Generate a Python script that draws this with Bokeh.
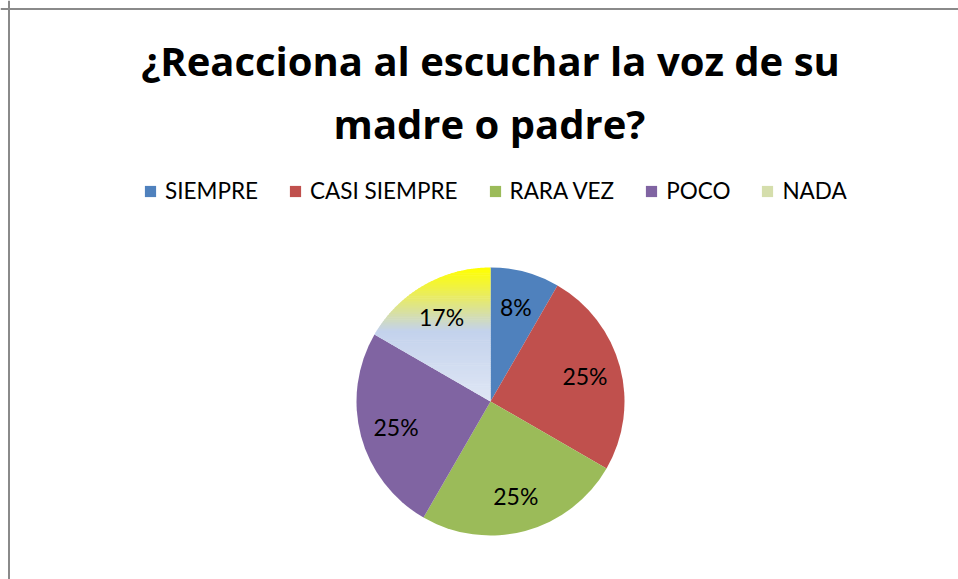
import numpy as np
from bokeh.plotting import figure
from bokeh.models import Range1d, Label, Legend, LegendItem, ColumnDataSource, Span
from bokeh.embed import file_html
from bokeh.resources import INLINE
from bokeh.core.properties import value

# ---------------- data ----------------
title_lines = ["¿Reacciona al escuchar la voz de su", "madre o padre?"]
categories = ["SIEMPRE", "CASI SIEMPRE", "RARA VEZ", "POCO", "NADA"]
counts = [1, 3, 3, 3, 2]

# ---------------- styles ----------------
solid_colors = ["#4F81BD", "#C0504D", "#9BBB59", "#8064A2"]
nada_stops = [(0.0, "#FFFF00"), (0.22, "#E8EB66"), (0.47, "#C3D2EC"), (1.0, "#E0E7F5")]
FONT = "Lato"
TITLE_FONT = "Open Sans"
W, H = 958, 579
CX, CY, R = 490, 178, 134
LABEL_R = 0.73

p = figure(width=W, height=H, x_range=Range1d(0, W), y_range=Range1d(0, H),
           output_backend="svg", toolbar_location=None, min_border=0,
           x_axis_location=None, y_axis_location=None)
p.grid.visible = False
p.outline_line_color = None
p.background_fill_color = "white"
p.border_fill_color = "white"

# chart-area border (left and top edges visible in the reference)
p.add_layout(Span(location=8.5, dimension="height", line_color="#8A8A8A", line_width=2))
p.add_layout(Span(location=H - 8.5, dimension="width", line_color="#8A8A8A", line_width=2))

# ---------------- pie geometry ----------------
vals = np.array(counts, dtype=float)
frac = vals / vals.sum()
cum = np.concatenate([[0.0], np.cumsum(frac)])
start = np.pi / 2 - 2 * np.pi * cum[:-1]
end = np.pi / 2 - 2 * np.pi * cum[1:]
mid = (start + end) / 2
pct = [f"{round(f * 100):.0f}%" for f in frac]

n_solid = 4
src = ColumnDataSource(dict(cat=categories[:n_solid], start=start[:n_solid], end=end[:n_solid],
                            color=solid_colors[:n_solid]))
wr = p.wedge(x=CX, y=CY, radius=R, start_angle="start", end_angle="end", direction="clock",
             fill_color="color", line_color=None, source=src)

# gradient slice (NADA) made of horizontal bands clipped to the wedge
def hex2rgb(h):
    h = h.lstrip("#")
    return np.array([int(h[i:i + 2], 16) for i in (0, 2, 4)], dtype=float)

def grad_color(t):
    for (t0, c0), (t1, c1) in zip(nada_stops[:-1], nada_stops[1:]):
        if t0 <= t <= t1:
            a = (t - t0) / (t1 - t0) if t1 > t0 else 0
            c = hex2rgb(c0) * (1 - a) + hex2rgb(c1) * a
            return "#%02x%02x%02x" % tuple(int(round(v)) for v in c)
    return nada_stops[-1][1]

def clip(poly, y0, keep_above):
    out = []
    n = len(poly)
    for i in range(n):
        P, Q = poly[i], poly[(i + 1) % n]
        inP = P[1] >= y0 if keep_above else P[1] <= y0
        inQ = Q[1] >= y0 if keep_above else Q[1] <= y0
        if inP:
            out.append(P)
        if inP != inQ:
            t = (y0 - P[1]) / (Q[1] - P[1])
            out.append((P[0] + t * (Q[0] - P[0]), y0))
    return out

a = np.linspace(start[4], end[4], 200)
poly = [(CX, CY)] + list(zip(CX + R * np.cos(a), CY + R * np.sin(a)))
ys_all = [q[1] for q in poly]
ymin, ymax = min(ys_all), max(ys_all)
NB = 70
edges = np.linspace(ymin, ymax, NB + 1)
bx, by, bc, bt = [], [], [], []
for i in range(NB):
    lo, hi = edges[i] - 0.6, edges[i + 1]
    pc = clip(clip(poly, lo, True), hi, False)
    if len(pc) < 3:
        continue
    t = (ymax - (edges[i] + edges[i + 1]) / 2) / (ymax - ymin)
    bx.append([q[0] for q in pc])
    by.append([q[1] for q in pc])
    bc.append(grad_color(t))
    bt.append(t)
band_src = ColumnDataSource(dict(xs=bx, ys=by, color=bc))
br = p.patches(xs="xs", ys="ys", fill_color="color", line_color=None, source=band_src)

# data labels
lab_src = ColumnDataSource(dict(x=CX + LABEL_R * R * np.cos(mid), y=CY + LABEL_R * R * np.sin(mid), text=pct))
p.text(x="x", y="y", text="text", source=lab_src, text_align="center", text_baseline="middle",
       text_font=value(FONT), text_font_size="23px", text_color="black")

# title (two lines)
p.add_layout(Label(x=490, y=H - 60, text=title_lines[0], text_align="center", text_baseline="alphabetic",
                   text_font=TITLE_FONT, text_font_style="bold", text_font_size="40px", text_color="black"))
p.add_layout(Label(x=489, y=H - 123, text=title_lines[1], text_align="center", text_baseline="alphabetic",
                   text_font=TITLE_FONT, text_font_style="bold", text_font_size="40px", text_color="black"))

# legend
mid_band = int(np.argmin([abs(t - 0.35) for t in bt]))
items = [LegendItem(label=categories[i], renderers=[wr], index=i) for i in range(n_solid)]
items.append(LegendItem(label=categories[4], renderers=[br], index=mid_band))
legend = Legend(items=items, orientation="horizontal", location=(143, H - 204),
                glyph_width=14, glyph_height=14, label_standoff=8, spacing=30,
                padding=0, margin=0, border_line_color=None, background_fill_alpha=0,
                label_text_font=FONT, label_text_font_size="22.5px", label_height=14,
                label_text_color="black")
p.add_layout(legend)

open("out.html", "w").write(file_html(p, INLINE))
